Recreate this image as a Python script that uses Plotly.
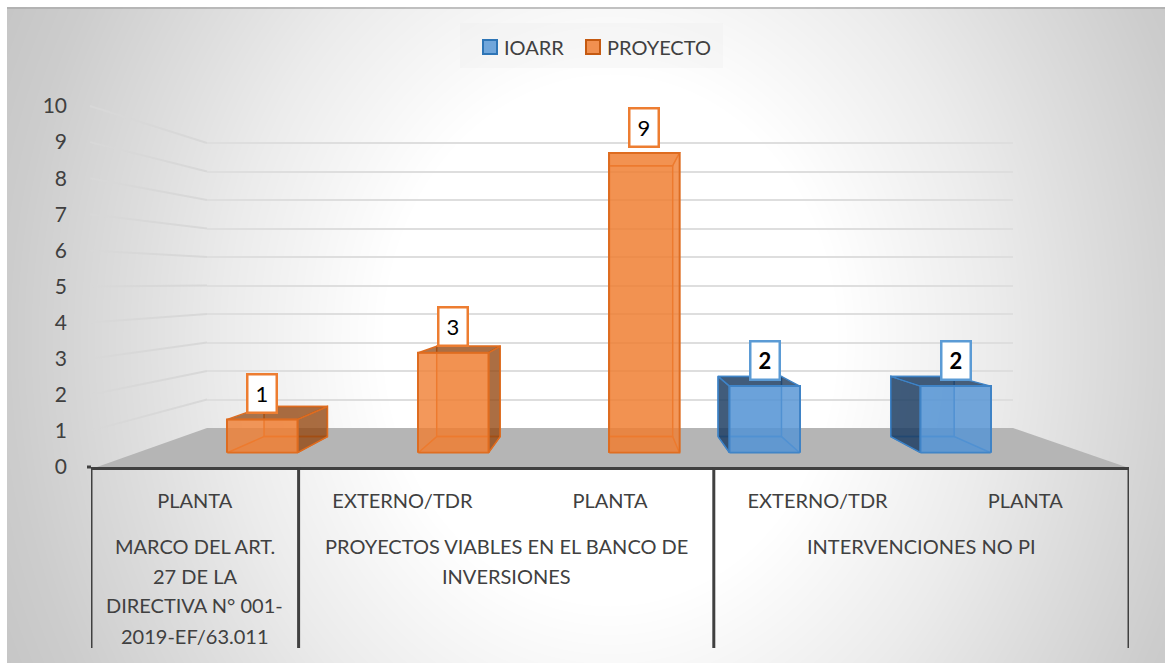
import base64, struct, zlib
import numpy as np
import plotly.graph_objects as go

W, H = 1165, 663

# ---------- data ----------
categories = ["PLANTA", "EXTERNO/TDR", "PLANTA", "EXTERNO/TDR", "PLANTA"]
group_lines = [
    ["MARCO DEL ART.", "27 DE LA", "DIRECTIVA N° 001-", "2019-EF/63.011"],
    ["PROYECTOS VIABLES EN EL BANCO DE", "INVERSIONES"],
    ["INTERVENCIONES NO PI"],
]
group_sizes = [1, 2, 2]
ioarr = [None, None, None, 2, 2]
proyecto = [1, 3, 9, None, None]
y_ticks = list(range(0, 11))

# ---------- styling / geometry ----------
FONT = "Lato"
TXT = "#404040"
BLUE_F, BLUE_L, BLUE_D = "rgba(84,148,212,0.82)", "#3F83C6", "rgba(28,58,92,0.80)"
ORG_F, ORG_L, ORG_D = "rgba(240,126,50,0.80)", "#DE6C20", "rgba(140,66,14,0.72)"
BAR_X0, BAR_X1 = 131.5, 1086.5
BAR_Y0, BAR_UNIT = 452.7, 33.3
BARGAP = 0.26
VP = (610.0, 285.0)
S = 0.904


def fx(p):
    return p / W


def fy(p):
    return 1 - p / H


def gradient_uri():
    x0, y0 = 7, 7
    xs = np.arange(x0, W)
    ys = np.arange(y0, H)
    xx, yy = np.meshgrid(xs, ys)
    d = np.sqrt(((xx - 610) / 600) ** 2 + ((yy - 340) / 700) ** 2)
    v = np.interp(d, [0.38, 0.64, 0.8, 1.0, 1.2], [255, 236, 222, 205, 193]).astype(np.uint8)
    raw = b"".join(b"\x00" + row.tobytes() for row in v)

    def chunk(t, c):
        return struct.pack(">I", len(c)) + t + c + struct.pack(">I", zlib.crc32(t + c))

    png = (b"\x89PNG\r\n\x1a\n"
           + chunk(b"IHDR", struct.pack(">IIBBBBB", v.shape[1], v.shape[0], 8, 0, 0, 0, 0))
           + chunk(b"IDAT", zlib.compress(raw, 9)) + chunk(b"IEND", b""))
    return "data:image/png;base64," + base64.b64encode(png).decode()


fig = go.Figure()

# back wall grid (subplot x,y)
fig.add_trace(go.Scatter(x=[0], y=[0], mode="markers", marker=dict(opacity=0), hoverinfo="skip",
                         showlegend=False, xaxis="x", yaxis="y"))

# depth faces derived from the values (subplot x2,y2 in pixel space)
slot = (BAR_X1 - BAR_X0) / len(categories)
off = slot * (1 - BARGAP) / 4
half = off - 0.3


def back(px, py):
    return VP[0] + S * (px - VP[0]), VP[1] + S * (py - VP[1])


def add_box(i, value, sign, dark, line, fill):
    c = BAR_X0 + slot * (i + 0.5) + sign * off
    l, r = c - half, c + half
    b, t = BAR_Y0, BAR_Y0 - value * BAR_UNIT
    (bl, bb), (br, bt) = back(l, b), back(r, t)
    # back face outline
    fig.add_trace(go.Scatter(x=[bl, br, br, bl, bl], y=[bb, bb, bt, bt, bb], mode="lines", fill="toself",
                             fillcolor=fill, line=dict(color=line, width=1.5), hoverinfo="skip",
                             showlegend=False, xaxis="x2", yaxis="y2"))
    # floor of the box
    fig.add_trace(go.Scatter(x=[l, r, br, bl, l], y=[b, b, bb, bb, b], mode="lines", fill="toself",
                             fillcolor=fill, line=dict(color=line, width=1.5), hoverinfo="skip",
                             showlegend=False, xaxis="x2", yaxis="y2"))
    # side face
    if c < VP[0]:
        sx, sb = r, br
    else:
        sx, sb = l, bl
    fig.add_trace(go.Scatter(x=[sx, sb, sb, sx, sx], y=[b, bb, bt, t, b], mode="lines", fill="toself",
                             fillcolor=dark, line=dict(color=line, width=1.5), hoverinfo="skip",
                             showlegend=False, xaxis="x2", yaxis="y2"))
    # top face
    fig.add_trace(go.Scatter(x=[l, r, br, bl, l], y=[t, t, bt, bt, t], mode="lines", fill="toself",
                             fillcolor=dark if t > VP[1] else fill, line=dict(color=line, width=1.5),
                             hoverinfo="skip", showlegend=False, xaxis="x2", yaxis="y2"))


for i, v in enumerate(ioarr):
    if v is not None:
        add_box(i, v, -1, BLUE_D, BLUE_L, "rgba(84,148,212,0.25)")
for i, v in enumerate(proyecto):
    if v is not None:
        add_box(i, v, 1, ORG_D, ORG_L, "rgba(238,124,48,0.25)")

# front faces (subplot x3,y3)
xs = list(range(len(categories)))
fig.add_trace(go.Bar(x=xs, y=ioarr, name="IOARR", marker=dict(color=BLUE_F, line=dict(color=BLUE_L, width=2)),
                     xaxis="x3", yaxis="y3", showlegend=False))
fig.add_trace(go.Bar(x=xs, y=proyecto, name="PROYECTO", marker=dict(color=ORG_F, line=dict(color=ORG_L, width=2)),
                     xaxis="x3", yaxis="y3", showlegend=False))

# labelled axes (subplot x4,y4)
fig.add_trace(go.Scatter(x=xs, y=[0] * len(xs), mode="markers", marker=dict(opacity=0), hoverinfo="skip",
                         showlegend=False, xaxis="x4", yaxis="y4"))

annotations = []
# value boxes
for series, sign, col, bold in ((ioarr, -1, "#5B9BD5", True), (proyecto, 1, "#ED7D31", False)):
    for i, v in enumerate(series):
        if v is None:
            continue
        annotations.append(dict(
            x=i + sign * off / slot, y=v, xref="x3", yref="y3", yshift=26, showarrow=False,
            text=f"<b>{v}</b>" if bold else str(v), font=dict(family=FONT, size=22, color="#000000"),
            bgcolor="#FFFFFF", bordercolor=col, borderwidth=2.5, width=27, height=36, borderpad=0))

# group labels, one annotation per line
start = -0.5
line_y = [546, 576, 605, 636]
dividers = [start]
for size, lines in zip(group_sizes, group_lines):
    centre = start + size / 2
    for ln, ypx in zip(lines, line_y):
        annotations.append(dict(x=centre, y=fy(ypx), xref="x4", yref="paper", showarrow=False, text=ln,
                                font=dict(family=FONT, size=20, color=TXT), xanchor="center", yanchor="middle"))
    start += size
    dividers.append(start)

# legend text
annotations.append(dict(x=fx(502), y=fy(47), xref="paper", yref="paper", showarrow=False, text="IOARR",
                        font=dict(family=FONT, size=20, color=TXT), xanchor="left", yanchor="middle"))
annotations.append(dict(x=fx(605), y=fy(47), xref="paper", yref="paper", showarrow=False, text="PROYECTO",
                        font=dict(family=FONT, size=20, color=TXT), xanchor="left", yanchor="middle"))

shapes = []
# chart top edge
shapes.append(dict(type="rect", xref="paper", yref="paper", x0=fx(7), x1=1, y0=fy(9), y1=fy(7),
                   fillcolor="rgba(170,170,170,0.7)", line_width=0, layer="below"))
# floor
WALL_Y0, WALL_UNIT = 428.0, 28.5
AX_Y0, AX_UNIT = 467.0, 36.1
WALL_TOP = 10.3
floor_path = f"M {fx(97)} {fy(467)} L {fx(207)} {fy(WALL_Y0)} L {fx(1013)} {fy(WALL_Y0)} L {fx(1126)} {fy(467)} Z"
shapes.append(dict(type="path", xref="paper", yref="paper", path=floor_path, fillcolor="#B5B5B5",
                   line_width=0, layer="below"))
# left wall grid lines
for t in y_ticks[1:]:
    shapes.append(dict(type="line", xref="paper", yref="paper", x0=fx(90), x1=fx(207),
                       y0=fy(AX_Y0 - t * AX_UNIT), y1=fy(WALL_Y0 - t * WALL_UNIT),
                       line=dict(color="#D8D8D8", width=2), layer="below"))
# category dividers
for d in dividers:
    shapes.append(dict(type="line", xref="x4", yref="paper", x0=d, x1=d, y0=fy(467), y1=fy(648),
                       line=dict(color="#404040", width=3)))
# zero tick
shapes.append(dict(type="line", xref="paper", yref="paper", x0=fx(87), x1=fx(91), y0=fy(467), y1=fy(467),
                   line=dict(color="#404040", width=3)))
# legend panel and swatches
shapes.append(dict(type="rect", xref="paper", yref="paper", x0=fx(460), x1=fx(723), y0=fy(68), y1=fy(23),
                   fillcolor="rgba(238,238,238,0.35)", line_width=0, layer="below"))
shapes.append(dict(type="rect", xref="paper", yref="paper", x0=fx(483), x1=fx(497), y0=fy(54), y1=fy(40),
                   fillcolor="#70A6DB", line=dict(color="#2E75B6", width=2)))
shapes.append(dict(type="rect", xref="paper", yref="paper", x0=fx(586), x1=fx(600), y0=fy(54), y1=fy(40),
                   fillcolor="#F19050", line=dict(color="#C55A11", width=2)))

hidden = dict(visible=False, fixedrange=True)
fig.update_layout(
    width=W, height=H, autosize=False, margin=dict(l=0, r=0, t=0, b=0, pad=0, autoexpand=False),
    paper_bgcolor="#FFFFFF", plot_bgcolor="rgba(0,0,0,0)",
    barmode="group", bargap=BARGAP, bargroupgap=0, showlegend=False,
    font=dict(family=FONT, color=TXT),
    images=[dict(source=gradient_uri(), xref="paper", yref="paper", x=fx(7), y=fy(7), sizex=fx(W - 7),
                 sizey=(H - 7) / H, xanchor="left", yanchor="top", sizing="stretch", layer="below")],
    shapes=shapes, annotations=annotations,
    # back wall
    xaxis=dict(domain=[fx(207), fx(1013)], range=[0, 1], **hidden),
    yaxis=dict(domain=[fy(WALL_Y0), fy(WALL_Y0 - WALL_TOP * WALL_UNIT)], range=[0, WALL_TOP], dtick=1, showgrid=True,
               gridcolor="#DEDEDE", gridwidth=2, zeroline=False, showticklabels=False, showline=False,
               ticks="", fixedrange=True, anchor="x"),
    # pixel-space overlay for the depth faces
    xaxis2=dict(domain=[0, 1], range=[0, W], anchor="y2", **hidden),
    yaxis2=dict(domain=[0, 1], range=[H, 0], anchor="x2", **hidden),
    # bars
    xaxis3=dict(domain=[fx(BAR_X0), fx(BAR_X1)], range=[-0.5, 4.5], anchor="y3", **hidden),
    yaxis3=dict(domain=[fy(BAR_Y0), fy(BAR_Y0 - 10 * BAR_UNIT)], range=[0, 10], anchor="x3", **hidden),
    # labelled axes
    xaxis4=dict(domain=[fx(91), fx(1129)], range=[-0.5, 4.5], anchor="y4", tickmode="array", tickvals=xs,
                ticktext=categories, tickfont=dict(family=FONT, size=20, color=TXT), ticks="",
                ticklabelstandoff=14, showgrid=False, zeroline=False, showline=True, linecolor="#404040",
                linewidth=3, fixedrange=True),
    yaxis4=dict(domain=[fy(AX_Y0), fy(AX_Y0 - 10 * AX_UNIT)], range=[0, 10], anchor="free", position=fx(67),
                tickmode="array", tickvals=y_ticks, tickfont=dict(family=FONT, size=21, color=TXT), ticks="",
                showgrid=False, zeroline=False, showline=False, fixedrange=True),
)

fig.write_html("out.html", config={"displayModeBar": False},
               post_script="document.body.style.margin='0';document.documentElement.style.overflow='hidden';")
